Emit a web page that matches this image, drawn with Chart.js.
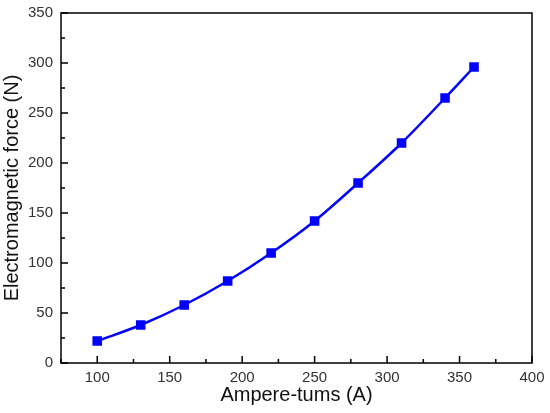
<!DOCTYPE html>
<html>
<head>
<meta charset="utf-8">
<script src="https://cdn.jsdelivr.net/npm/chart.js@4"></script>
<style>
  html, body { margin: 0; padding: 0; background: #fff; }
  #wrap { width: 550px; height: 413px; }
</style>
</head>
<body>
<div id="wrap"><canvas id="chart" width="550" height="413"></canvas></div>
<script>
  // values
  var ampereTurns = [100, 130, 160, 190, 220, 250, 280, 310, 340, 360];
  var forceN = [22, 38, 58, 82, 110, 142, 180, 220, 265, 296];
  var xTicks = [100, 150, 200, 250, 300, 350, 400];
  var yTicks = [0, 50, 100, 150, 200, 250, 300, 350];

  var points = ampereTurns.map(function (x, i) {
    return { x: x, y: forceN[i] };
  });

  // frame + inward ticks, placed through the scales
  var framePlugin = {
    id: 'frame',
    afterDraw: function (chart) {
      var ctx = chart.ctx;
      var a = chart.chartArea;
      var xs = chart.scales.x;
      var ys = chart.scales.y;
      ctx.save();
      ctx.strokeStyle = '#000';
      ctx.lineWidth = 1.5;
      ctx.strokeRect(a.left, a.top, a.right - a.left, a.bottom - a.top);
      ctx.beginPath();
      var v, px, len;
      for (v = 75; v <= 400; v += 25) {
        px = xs.getPixelForValue(v);
        len = v % 50 === 0 ? 7 : 4;
        ctx.moveTo(px, a.bottom);
        ctx.lineTo(px, a.bottom - len);
      }
      for (v = 0; v <= 350; v += 25) {
        px = ys.getPixelForValue(v);
        len = v % 50 === 0 ? 7 : 4;
        ctx.moveTo(a.left, px);
        ctx.lineTo(a.left + len, px);
      }
      ctx.stroke();
      ctx.restore();
    }
  };

  var tickFont = { family: 'Arial, "Liberation Sans", sans-serif', size: 15 };
  var titleFont = { family: 'Arial, "Liberation Sans", sans-serif', size: 20 };

  new Chart(document.getElementById('chart'), {
    type: 'line',
    data: {
      datasets: [{
        data: points,
        borderColor: '#0000ff',
        backgroundColor: '#0000ff',
        borderWidth: 2.5,
        pointStyle: 'rect',
        pointRadius: 5,
        pointHoverRadius: 5,
        cubicInterpolationMode: 'monotone',
        fill: false
      }]
    },
    options: {
      responsive: false,
      animation: false,
      layout: { padding: { top: 13, right: 18, left: 0, bottom: 6 } },
      plugins: { legend: { display: false }, tooltip: { enabled: false } },
      scales: {
        x: {
          type: 'linear',
          min: 75,
          max: 400,
          afterBuildTicks: function (s) {
            s.ticks = xTicks.map(function (v) { return { value: v }; });
          },
          afterFit: function (s) {
            s.height = 44;
            s.paddingLeft = 0;
            s.paddingRight = 0;
          },
          grid: { display: false, drawTicks: false },
          border: { display: false },
          ticks: { color: '#333', font: tickFont, padding: 6, maxRotation: 0 },
          title: {
            display: true,
            text: 'Ampere-tums (A)',
            color: '#111',
            font: titleFont,
            padding: { top: 0, bottom: 0 }
          }
        },
        y: {
          min: 0,
          max: 350,
          afterBuildTicks: function (s) {
            s.ticks = yTicks.map(function (v) { return { value: v }; });
          },
          afterFit: function (s) {
            s.width = 61;
            s.paddingTop = 0;
            s.paddingBottom = 0;
          },
          grid: { display: false, drawTicks: false },
          border: { display: false },
          ticks: { color: '#333', font: tickFont, padding: 8 },
          title: {
            display: true,
            text: 'Electromagnetic force (N)',
            color: '#111',
            font: titleFont,
            padding: { top: 0, bottom: 0 }
          }
        }
      }
    },
    plugins: [framePlugin]
  });
</script>
</body>
</html>
